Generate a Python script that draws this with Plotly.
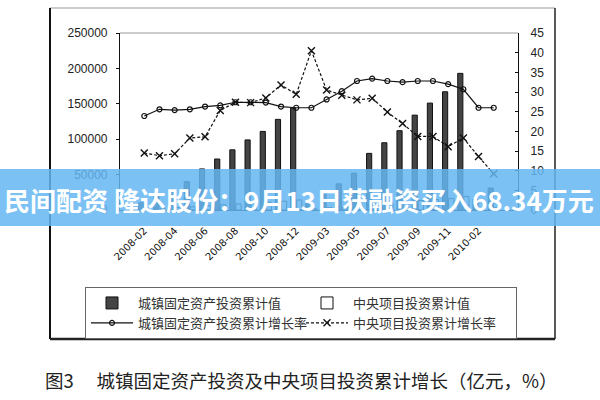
import plotly.graph_objects as go

# ---------------- data ----------------
months = ["2008-02", "2008-03", "2008-04", "2008-05", "2008-06", "2008-07",
          "2008-08", "2008-09", "2008-10", "2008-11", "2008-12",
          "2009-02", "2009-03", "2009-04", "2009-05", "2009-06", "2009-07",
          "2009-08", "2009-09", "2009-10", "2009-11", "2009-12",
          "2010-02", "2010-03"]
tick_months = ["2008-02", "2008-04", "2008-06", "2008-08", "2008-10", "2008-12",
               "2009-03", "2009-05", "2009-07", "2009-09", "2009-11", "2010-02"]

urban_fai_cum = [10000, 20000, 29000, 40000, 58000, 72000, 85000, 99000, 111000,
                 128000, 144000, 12000, 27000, 37000, 52000, 80000, 95000, 112000,
                 134000, 151000, 167000, 193000, 15000, 31000]
central_cum = [1200, 2300, 3300, 4500, 6200, 7400, 8600, 9900, 11000, 12400, 14200,
               1700, 3300, 4700, 6300, 8600, 10000, 11600, 13400, 14800, 16300, 19000,
               1700, 3300]
urban_growth = [23.9, 25.6, 25.4, 25.6, 26.3, 26.6, 27.4, 27.4, 27.3, 26.3, 26.0,
                26.0, 28.1, 30.2, 32.8, 33.4, 32.8, 32.5, 32.8, 32.8, 32.0, 30.7,
                26.0, 26.0]
central_growth = [14.5, 13.8, 14.3, 18.3, 18.6, 25.3, 27.4, 27.3, 28.5, 31.8, 29.4,
                  40.5, 30.5, 29.2, 28.0, 28.4, 24.9, 22.0, 18.7, 18.7, 16.1, 18.3,
                  13.6, 9.2]

left_ticks = [0, 50000, 100000, 150000, 200000, 250000]

names = ["城镇固定资产投资累计值", "中央项目投资累计值",
         "城镇固定资产投资累计增长率", "中央项目投资累计增长率"]
caption = "图3　 城镇固定资产投资及中央项目投资累计增长（亿元，%）"
banner = "民间配资 隆达股份：9月13日获融资买入68.34万元"

# ---------------- geometry helpers ----------------
W, H = 600, 400
L, R, T, B = 120, 518, 33, 210   # plot area in pixels


def px(x):
    return (x - L) / (R - L)


def py(y):
    return (B - y) / (B - T)


fig = go.Figure()
fig.add_trace(go.Bar(x=months, y=urban_fai_cum, name=names[0],
                     marker=dict(color="#444444", line=dict(color="#111111", width=1))))
fig.add_trace(go.Bar(x=months, y=central_cum, name=names[1],
                     marker=dict(color="#ffffff", line=dict(color="#111111", width=1))))
fig.add_trace(go.Scatter(x=months, y=urban_growth, name=names[2], yaxis="y2",
                         mode="lines+markers",
                         line=dict(color="#111111", width=1.2),
                         marker=dict(symbol="circle-open", size=5, color="#111111",
                                     line=dict(width=1.2))))
fig.add_trace(go.Scatter(x=months, y=central_growth, name=names[3], yaxis="y2",
                         mode="lines+markers",
                         line=dict(color="#111111", width=1.2, dash="3px,2px"),
                         marker=dict(symbol="x-thin-open", size=7, color="#111111",
                                     line=dict(width=1.4))))

shapes = [
    # outer frame
    dict(type="line", xref="paper", yref="paper", x0=px(50), x1=px(555), y0=py(8), y1=py(8),
         line=dict(color="#999999", width=1), layer="above"),
    dict(type="line", xref="paper", yref="paper", x0=px(50), x1=px(50), y0=py(8), y1=py(339),
         line=dict(color="#111111", width=2), layer="above"),
    dict(type="line", xref="paper", yref="paper", x0=px(555), x1=px(555), y0=py(8), y1=py(339),
         line=dict(color="#222222", width=1.5), layer="above"),
    dict(type="line", xref="paper", yref="paper", x0=px(50), x1=px(555), y0=py(339), y1=py(339),
         line=dict(color="#222222", width=2.5), layer="above"),
    # banner
    dict(type="rect", xref="paper", yref="paper", x0=px(0), x1=px(600), y0=py(226), y1=py(169),
         fillcolor="rgba(100,182,242,0.85)", line=dict(width=0), layer="above"),
]

annotations = [
    dict(text=banner, xref="paper", yref="paper", x=px(299), y=py(199),
         xanchor="center", yanchor="middle", showarrow=False,
         font=dict(family="Noto Sans CJK SC", size=26, color="#ffffff", weight="bold")),
    dict(text=caption, xref="paper", yref="paper", x=px(301), y=py(380),
         xanchor="center", yanchor="middle", showarrow=False,
         font=dict(family="Noto Sans CJK SC", size=18.5, color="#222222")),
]

fig.update_layout(
    width=W, height=H,
    margin=dict(l=L, r=W - R, t=T, b=H - B, pad=0, autoexpand=False),
    paper_bgcolor="#ffffff", plot_bgcolor="#ffffff",
    barmode="group", bargap=0.2, bargroupgap=0.15,
    showlegend=True,
    legend=dict(orientation="h", x=px(85), y=py(287), xanchor="left", yanchor="top",
                bordercolor="#666666", borderwidth=1, bgcolor="#ffffff",
                font=dict(family="Noto Sans CJK SC", size=13, color="#333333"),
                itemwidth=42,
                entrywidth=158, entrywidthmode="pixels", traceorder="normal"),
    xaxis=dict(type="category", categoryorder="array", categoryarray=months,
               tickmode="array", tickvals=tick_months, ticktext=tick_months,
               tickangle=-45, ticks="", ticklabelstandoff=10,
               tickfont=dict(family="DejaVu Sans", size=10, color="#111111"),
               showline=True, linecolor="#111111", linewidth=1, mirror=False,
               showgrid=False, zeroline=False),
    yaxis=dict(range=[0, 250000], tickmode="array", tickvals=left_ticks,
               ticktext=[str(v) for v in left_ticks],
               ticks="outside", ticklen=3, tickcolor="#111111",
               tickfont=dict(family="Liberation Sans", size=12, color="#222222"),
               ticklabelstandoff=6,
               showline=True, linecolor="#111111", linewidth=1.2,
               showgrid=False, zeroline=False),
    yaxis2=dict(range=[0, 45], dtick=5, overlaying="y", side="right",
                ticks="inside", ticklen=3, tickcolor="#111111",
                tickfont=dict(family="Liberation Sans", size=12, color="#222222"),
                ticklabelstandoff=9,
                showline=True, linecolor="#111111", linewidth=1.2,
                showgrid=False, zeroline=False),
    shapes=shapes,
    annotations=annotations,
)
# top border of the plot area
fig.add_shape(type="line", xref="paper", yref="paper", x0=0, x1=1, y0=1, y1=1,
              line=dict(color="#999999", width=1))

fig.write_html("out.html",
               config={"displayModeBar": False},
               post_script="document.body.style.margin='0';document.body.style.padding='0';")
